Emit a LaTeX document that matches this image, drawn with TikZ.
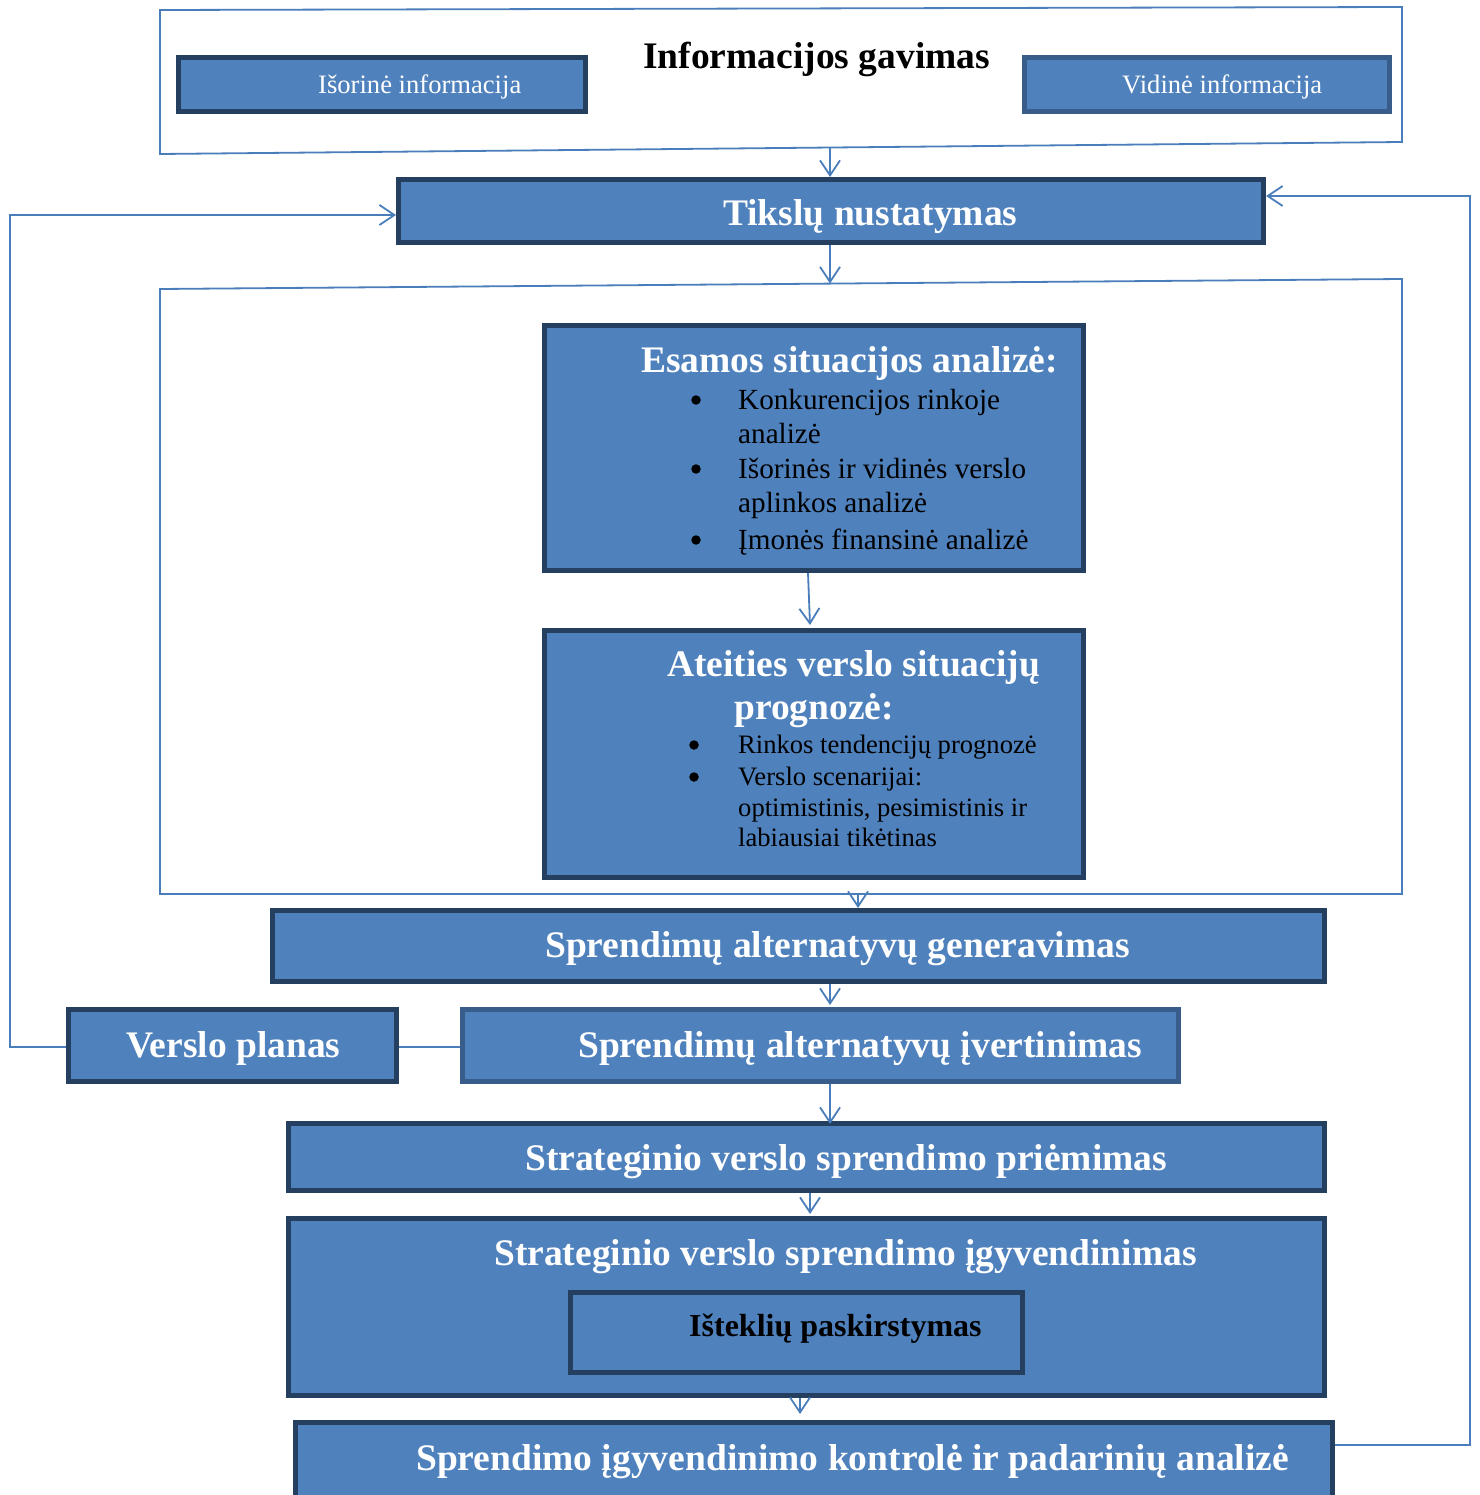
\documentclass[tikz,border=0pt]{standalone}
\usepackage{fontspec}
\setmainfont{Liberation Serif}
\usetikzlibrary{arrows.meta}
\definecolor{boxfill}{HTML}{4F81BD}
\definecolor{boxdark}{HTML}{243F60}
\definecolor{boxmid}{HTML}{385D8A}
\definecolor{linkblue}{HTML}{4A7EBB}
\begin{document}
\begin{tikzpicture}[x=1pt,y=-1pt,
  box/.style={draw=boxdark,line width=5pt,fill=boxfill,inner sep=0pt,anchor=north west},
  boxlight/.style={box,draw=boxmid},
  frameline/.style={draw=linkblue,line width=1.8pt},
  link/.style={draw=linkblue,line width=1.8pt,-{Straight Barb[length=15pt,width=20pt]}},
  plainlink/.style={draw=linkblue,line width=2pt},
  big/.style={anchor=base west,inner sep=0pt,text=white,font=\bfseries\fontsize{37.5}{43}\selectfont},
  small/.style={anchor=base west,inner sep=0pt,text=white,font=\fontsize{26.6}{31}\selectfont},
  item/.style={anchor=base west,inner sep=0pt,text=black,font=\fontsize{29.2}{34}\selectfont},
  itemsm/.style={anchor=base west,inner sep=0pt,text=black,font=\fontsize{26.6}{31}\selectfont},
  dot/.style={circle,fill=black,inner sep=0pt,minimum size=9.5pt}]
\clip (0,0) rectangle (1479,1495);

% --- information gathering frame
\draw[frameline] (160,10) -- (1402,7) -- (1402,142) -- (160,154) -- cycle;
\node[black,anchor=base west,inner sep=0pt,font=\bfseries\fontsize{37.5}{43}\selectfont] (infot) at (643,69) {Informacijos gavimas};
\node[box,minimum width=407pt,minimum height=54pt] (isor) at (176,55) {};
\node[small] (isort) at (318,94) {Išorinė informacija};
\node[boxlight,minimum width=365pt,minimum height=54pt] (vid) at (1022,55) {};
\node[small] (vidt) at (1122,94) {Vidinė informacija};
\coordinate (infoB) at (830,147.5);

% --- goals
\node[box,minimum width=865pt,minimum height=63pt] (tik) at (396,177) {};
\node[big] (tikt) at (723,226) {Tikslų nustatymas};

% --- analysis frame
\draw[frameline] (160,289) -- (1402,279) -- (1402,894) -- (160,894) -- cycle;
\coordinate (anaT) at (830,283.5);
\coordinate (anaB) at (858,894);

\node[box,minimum width=539pt,minimum height=245pt] (esam) at (542,323) {};
\node[big] (esamt) at (641,372) {Esamos situacijos analizė:};
\node[dot] (b1) at (696,400) {};
\node[item] (e1) at (738,409) {Konkurencijos rinkoje};
\node[item] (e2) at (738,443) {analizė};
\node[dot] (b2) at (696,469) {};
\node[item] (e3) at (738,478) {Išorinės ir vidinės verslo};
\node[item] (e4) at (738,512) {aplinkos analizė};
\node[dot] (b3) at (696,540) {};
\node[item] (e5) at (738,549) {Įmonės finansinė analizė};

\node[box,minimum width=539pt,minimum height=247pt] (ateit) at (542,628) {};
\node[big] (at1) at (667,676) {Ateities verslo situacijų};
\node[big] (at2) at (734,719) {prognozė:};
\node[dot] (b4) at (694,745) {};
\node[itemsm] (a1) at (738,753) {Rinkos tendencijų prognozė};
\node[dot] (b5) at (694,777) {};
\node[itemsm] (a2) at (738,785) {Verslo scenarijai:};
\node[itemsm] (a3) at (738,816) {optimistinis, pesimistinis ir};
\node[itemsm] (a4) at (738,846) {labiausiai tikėtinas};

% --- decision steps
\node[box,minimum width=1052pt,minimum height=71pt] (gen) at (270,908) {};
\node[big] (gent) at (545,957) {Sprendimų alternatyvų generavimas};

\node[box,minimum width=328pt,minimum height=72pt] (vp) at (66,1007) {};
\node[big] (vpt) at (126,1057) {Verslo planas};

\node[boxlight,minimum width=716pt,minimum height=72pt] (ivert) at (460,1007) {};
\node[big] (ivertt) at (578,1057) {Sprendimų alternatyvų įvertinimas};

\node[box,minimum width=1036pt,minimum height=67pt] (prie) at (286,1121) {};
\node[big] (priet) at (525,1170) {Strateginio verslo sprendimo priėmimas};

\node[box,minimum width=1036pt,minimum height=177pt] (igyv) at (286,1216) {};
\node[big] (igyvt) at (494,1265) {Strateginio verslo sprendimo įgyvendinimas};
\node[box,minimum width=452pt,minimum height=80pt] (istek) at (568,1290) {};
\node[anchor=base west,inner sep=0pt,text=black,font=\bfseries\fontsize{32}{38}\selectfont] (istekt) at (689,1336) {Išteklių paskirstymas};

\node[box,minimum width=1037pt,minimum height=120pt] (kontr) at (293,1420) {};
\node[big] (kontrt) at (416,1470) {Sprendimo įgyvendinimo kontrolė ir padarinių analizė};

% --- connectors
\draw[link] (infoB) -- (infoB |- tik.north);
\draw[link] (tik.south -| anaT) -- (anaT);
\draw[link] (esam.south -| 808,0) -- (810,625);
\draw[link] (anaB) -- (anaB |- gen.north);
\draw[link] (gen.south -| 830,0) -- (830,1005);
\draw[link] (ivert.south -| 830,0) -- (830,1124);
\draw[link] (prie.south -| 810,0) -- (810,1214);
\draw[link] (igyv.south -| 800,0) -- (800,1414);
\draw[plainlink] (vp.east |- 0,1047) -- (ivert.west |- 0,1047);
\draw[link] (vp.west |- 0,1047) -- (10,1047) -- (10,215) -- (tik.west |- 0,215);
\draw[link] (kontr.east |- 0,1445) -- (1470,1445) -- (1470,196) -- (tik.east |- 0,196);
\end{tikzpicture}
\end{document}
